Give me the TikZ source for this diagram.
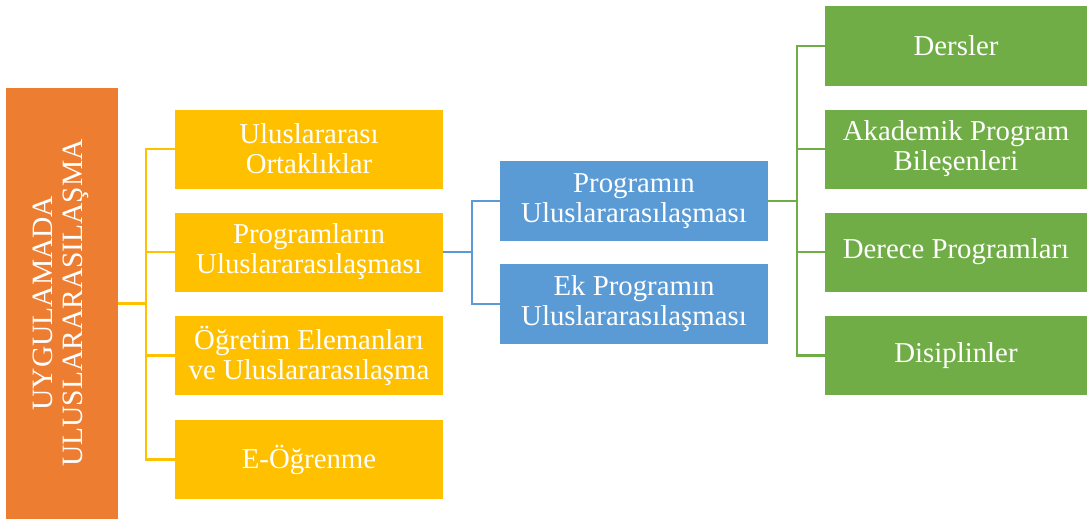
\documentclass[tikz,border=0pt]{standalone}
\usepackage{fontspec}
\setmainfont{Liberation Serif}
\usetikzlibrary{calc}
\definecolor{corange}{HTML}{ED7D31}
\definecolor{cyellow}{HTML}{FFC000}
\definecolor{cblue}{HTML}{5B9BD5}
\definecolor{cgreen}{HTML}{70AD47}
\begin{document}
\begin{tikzpicture}[x=1pt,y=-1pt,
  boxbase/.style={rectangle, inner sep=0pt, text=white, align=center,
    font=\fontsize{28.8}{30}\selectfont},
  ybox/.style={boxbase, fill=cyellow, minimum width=268pt, minimum height=79pt},
  bbox/.style={boxbase, fill=cblue, minimum width=268pt, minimum height=80pt},
  gbox/.style={boxbase, fill=cgreen, minimum width=262pt, minimum height=79pt},
  obox/.style={boxbase, fill=corange, minimum width=112pt, minimum height=431pt},
  yline/.style={draw=cyellow, line width=2.8pt},
  bline/.style={draw=cblue, line width=2.8pt},
  gline/.style={draw=cgreen, line width=2.8pt}]
\useasboundingbox (0,0) rectangle (1087,519);
\node[obox] (org) at (62,303.5) {};
\node[boxbase, rotate=90, font=\fontsize{29.5}{30}\selectfont] (orgtext) at (61,303) {UYGULAMADA\\ULUSLARARASILAŞMA};
\node[ybox] (y1) at (309,149) {Uluslararası\\Ortaklıklar};
\node[ybox] (y2) at (309,252) {Programların\\Uluslararasılaşması};
\node[ybox] (y3) at (309,355.5) {Öğretim Elemanları\\ve Uluslararasılaşma};
\node[ybox] (y4) at (309,459.5) {E-Öğrenme};
\node[bbox] (b1) at (634,201) {Programın\\Uluslararasılaşması};
\node[bbox] (b2) at (634,304) {Ek Programın\\Uluslararasılaşması};
\node[gbox] (g1) at (956,46) {Dersler};
\node[gbox] (g2) at (956,149) {Akademik Program\\Bileşenleri};
\node[gbox] (g3) at (956,252) {Derece Programları};
\node[gbox] (g4) at (956,355.5) {Disiplinler};
\coordinate (ybus) at (146,0);
\coordinate (bbus) at (472,0);
\coordinate (gbus) at (797,0);
\draw[yline] (org.east) -- (ybus |- org.east);
\draw[yline] (y1.west) -| (ybus |- y4.west) -- (y4.west);
\draw[yline] (y2.west) -- (ybus |- y2.west);
\draw[yline] (y3.west) -- (ybus |- y3.west);
\draw[bline] (y2.east) -- (bbus |- y2.east);
\draw[bline] (b1.west) -| (bbus |- b2.west) -- (b2.west);
\draw[gline] (b1.east) -- (gbus |- b1.east);
\draw[gline] (g1.west) -| (gbus |- g4.west) -- (g4.west);
\draw[gline] (g2.west) -- (gbus |- g2.west);
\draw[gline] (g3.west) -- (gbus |- g3.west);
\end{tikzpicture}
\end{document}
